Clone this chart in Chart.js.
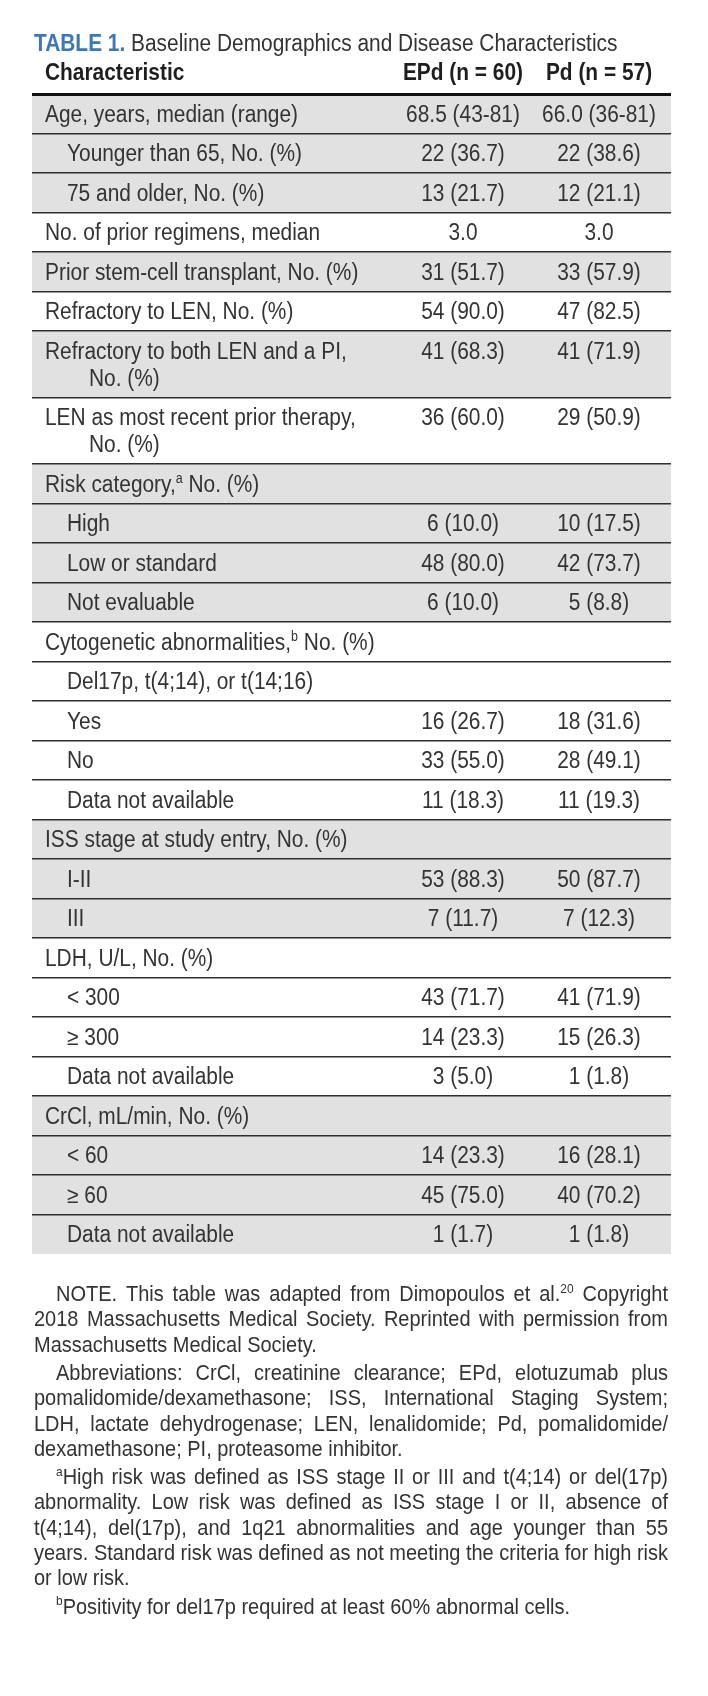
<!DOCTYPE html>
<html lang="en">
<head>
<meta charset="UTF-8">
<title>Table 1. Baseline Demographics and Disease Characteristics</title>
<script src="https://cdn.jsdelivr.net/npm/chart.js"></script>
<style>
    body { margin: 0; background: #fff; }
    #wrap { width: 708px; height: 1696px; }
</style>
</head>
<body>
<div id="wrap"><canvas id="tableChart" width="708" height="1696"></canvas></div>
<script>
// ---- table content ----
const titleLabel = 'TABLE 1.';
const titleText = 'Baseline Demographics and Disease Characteristics';
const colHeaders = ['Characteristic', 'EPd (n = 60)', 'Pd (n = 57)'];

// {x} marks a superscript
const rowLabels = [
    'Age, years, median (range)',
    'Younger than 65, No. (%)',
    '75 and older, No. (%)',
    'No. of prior regimens, median',
    'Prior stem-cell transplant, No. (%)',
    'Refractory to LEN, No. (%)',
    ['Refractory to both LEN and a PI,', 'No. (%)'],
    ['LEN as most recent prior therapy,', 'No. (%)'],
    'Risk category,{a} No. (%)',
    'High',
    'Low or standard',
    'Not evaluable',
    'Cytogenetic abnormalities,{b} No. (%)',
    'Del17p, t(4;14), or t(14;16)',
    'Yes',
    'No',
    'Data not available',
    'ISS stage at study entry, No. (%)',
    'I-II',
    'III',
    'LDH, U/L, No. (%)',
    '< 300',
    '\u2265 300',
    'Data not available',
    'CrCl, mL/min, No. (%)',
    '< 60',
    '\u2265 60',
    'Data not available'
];
// 0 = main characteristic, 1 = sub row
const rowLevels = [0, 1, 1, 0, 0, 0, 0, 0, 0, 1, 1, 1, 0, 1, 1, 1, 1, 0, 1, 1, 0, 1, 1, 1, 0, 1, 1, 1];
const epdValues = ['68.5 (43-81)', '22 (36.7)', '13 (21.7)', '3.0', '31 (51.7)', '54 (90.0)', '41 (68.3)', '36 (60.0)',
    '', '6 (10.0)', '48 (80.0)', '6 (10.0)', '', '', '16 (26.7)', '33 (55.0)', '11 (18.3)',
    '', '53 (88.3)', '7 (11.7)', '', '43 (71.7)', '14 (23.3)', '3 (5.0)', '', '14 (23.3)', '45 (75.0)', '1 (1.7)'];
const pdValues = ['66.0 (36-81)', '22 (38.6)', '12 (21.1)', '3.0', '33 (57.9)', '47 (82.5)', '41 (71.9)', '29 (50.9)',
    '', '10 (17.5)', '42 (73.7)', '5 (8.8)', '', '', '18 (31.6)', '28 (49.1)', '11 (19.3)',
    '', '50 (87.7)', '7 (12.3)', '', '41 (71.9)', '15 (26.3)', '1 (1.8)', '', '16 (28.1)', '40 (70.2)', '1 (1.8)'];

// footnote paragraphs, one entry per printed line
const noteParagraphs = [
    ['NOTE. This table was adapted from Dimopoulos et al.{20} Copyright',
     '2018 Massachusetts Medical Society. Reprinted with permission from',
     'Massachusetts Medical Society.'],
    ['Abbreviations: CrCl, creatinine clearance; EPd, elotuzumab plus',
     'pomalidomide/dexamethasone; ISS, International Staging System;',
     'LDH, lactate dehydrogenase; LEN, lenalidomide; Pd, pomalidomide/',
     'dexamethasone; PI, proteasome inhibitor.'],
    ['{a}High risk was defined as ISS stage II or III and t(4;14) or del(17p)',
     'abnormality. Low risk was defined as ISS stage I or II, absence of',
     't(4;14), del(17p), and 1q21 abnormalities and age younger than 55',
     'years. Standard risk was defined as not meeting the criteria for high risk',
     'or low risk.'],
    ['{b}Positivity for del17p required at least 60% abnormal cells.']
];

// ---- layout / style ----
const FONT = '"Liberation Sans", Arial, sans-serif';
const SX = 0.908;            // horizontal squeeze to mimic the condensed face
const ROW_H = 39.5;
const LINE_H = 27;
const GRAY = '#e1e1e1';
const TEXT = '#333333';

// row geometry in table units (1 unit = 1px)
const rowLines = rowLabels.map(l => Array.isArray(l) ? l.length : 1);
const rowHeights = rowLines.map(n => ROW_H + (n - 1) * LINE_H);
const rowTops = [];
rowHeights.reduce((acc, h) => { rowTops.push(acc); return acc + h; }, 0);
const tableHeight = rowHeights.reduce((a, b) => a + b, 0);
const boundaries = rowTops.slice();  // separator lines above each row

// alternate shading by characteristic group
let group = -1;
const rowShaded = rowLevels.map(l => { if (l === 0) group++; return group % 2 === 0; });

function rowData(lines) {
    const idx = rowLines.map((n, i) => i).filter(i => rowLines[i] === lines);
    return {
        data: idx.map(i => ({ x: [0, 1], y: rowTops[i] + rowHeights[i] / 2 })),
        colors: idx.map(i => rowShaded[i] ? GRAY : 'rgba(255,255,255,0)')
    };
}
const singleRows = rowData(1);
const doubleRows = rowData(2);

// ---- text helpers ----
function segments(str) {
    const out = [];
    const re = /\{([^}]*)\}/g;
    let last = 0, m;
    while ((m = re.exec(str))) {
        if (m.index > last) out.push({ t: str.slice(last, m.index), sup: false });
        out.push({ t: m[1], sup: true });
        last = re.lastIndex;
    }
    if (last < str.length) out.push({ t: str.slice(last), sup: false });
    return out;
}
function setFont(ctx, size, weight, sup) {
    ctx.font = weight + ' ' + (sup ? size * 0.6 : size) + 'px ' + FONT;
}
function richWidth(ctx, str, size, weight, sx) {
    let w = 0;
    for (const seg of segments(str)) {
        setFont(ctx, size, weight, seg.sup);
        w += ctx.measureText(seg.t).width * (sx || SX);
    }
    return w;
}
function drawRich(ctx, str, x, y, size, weight, color, sx) {
    sx = sx || SX;
    ctx.fillStyle = color;
    let cx = x;
    for (const seg of segments(str)) {
        setFont(ctx, size, weight, seg.sup);
        ctx.save();
        ctx.translate(cx, seg.sup ? y - size * 0.38 : y);
        ctx.scale(sx, 1);
        ctx.fillText(seg.t, 0, 0);
        ctx.restore();
        cx += ctx.measureText(seg.t).width * sx;
    }
    return cx - x;
}
function drawLine(ctx, str, x0, x1, y, size, color, justify) {
    const words = str.split(' ');
    setFont(ctx, size, 'normal', false);
    const space = ctx.measureText(' ').width * SX;
    let sx = SX;
    let widths = words.map(w => richWidth(ctx, w, size, 'normal'));
    let sum = widths.reduce((a, b) => a + b, 0);
    let gap = space;
    if (justify && words.length > 1) {
        gap = (x1 - x0 - sum) / (words.length - 1);
        if (gap < space * 0.5) {
            const k = (x1 - x0) / (sum + space * 0.5 * (words.length - 1));
            sx = SX * k;
            widths = widths.map(w => w * k);
            gap = space * 0.5 * k;
        }
    }
    let x = x0;
    words.forEach((w, i) => {
        drawRich(ctx, w, x, y, size, 'normal', color, sx);
        x += widths[i] + gap;
    });
}

const tableText = {
    id: 'tableText',
    afterDraw(chart) {
        const ctx = chart.ctx;
        const y = chart.scales.y;
        const area = chart.chartArea;
        ctx.save();
        ctx.textBaseline = 'alphabetic';
        ctx.textAlign = 'left';

        // title
        const tw = drawRich(ctx, titleLabel, 34, 51, 23, 'bold', '#3b79b6');
        drawRich(ctx, ' ' + titleText, 34 + tw, 51, 23, 'normal', TEXT);

        // column headers
        const colX = [45, 463, 599];
        const hy = y.getPixelForValue(0) - 14;
        drawRich(ctx, colHeaders[0], colX[0], hy, 23, 'bold', '#1e1e1e');
        for (let c = 1; c < 3; c++) {
            const w = richWidth(ctx, colHeaders[c], 23, 'bold');
            drawRich(ctx, colHeaders[c], colX[c] - w / 2, hy, 23, 'bold', '#1e1e1e');
        }

        // rows
        rowLabels.forEach((label, i) => {
            const base = y.getPixelForValue(rowTops[i]) + 27.5;
            const lines = Array.isArray(label) ? label : [label];
            const indent = rowLevels[i] === 0 ? 45 : 67;
            lines.forEach((ln, j) => {
                drawRich(ctx, ln, j === 0 ? indent : indent + 44, base + j * LINE_H, 23, 'normal', TEXT);
            });
            [epdValues[i], pdValues[i]].forEach((v, c) => {
                if (!v) return;
                const w = richWidth(ctx, v, 23, 'normal');
                drawRich(ctx, v, colX[c + 1] - w / 2, base, 23, 'normal', TEXT);
            });
        });

        // footnotes
        let ny = area.bottom + 47;
        noteParagraphs.forEach((para, p) => {
            para.forEach((ln, j) => {
                const last = j === para.length - 1;
                drawLine(ctx, ln, j === 0 ? 56 : 34, 668, ny, 22, TEXT, !last);
                ny += 25.3;
            });
            ny += 3;
        });
        ctx.restore();
    }
};

new Chart(document.getElementById('tableChart'), {
    type: 'bar',
    data: {
        datasets: [
            { label: 'single', data: singleRows.data, backgroundColor: singleRows.colors, barThickness: ROW_H },
            { label: 'double', data: doubleRows.data, backgroundColor: doubleRows.colors, barThickness: ROW_H + LINE_H }
        ]
    },
    options: {
        indexAxis: 'y',
        responsive: false,
        devicePixelRatio: 1,
        animation: false,
        layout: { padding: { top: 94, left: 32, right: 37, bottom: 1696 - 94 - tableHeight } },
        datasets: { bar: { grouped: false, borderWidth: 0, borderSkipped: false } },
        plugins: { legend: { display: false }, tooltip: { enabled: false }, title: { display: false } },
        scales: {
            x: { type: 'linear', min: 0, max: 1, display: false },
            y: {
                type: 'linear',
                reverse: true,
                offset: false,
                min: 0,
                max: tableHeight,
                afterBuildTicks: axis => { axis.ticks = boundaries.map(v => ({ value: v })); },
                ticks: { display: false },
                border: { display: false },
                grid: {
                    z: 1,
                    offset: false,
                    drawTicks: false,
                    color: ctx => ctx.tick && ctx.tick.value === 0 ? '#111' : '#2e2e2e',
                    lineWidth: ctx => ctx.tick && ctx.tick.value === 0 ? 3 : 1.5
                }
            }
        }
    },
    plugins: [tableText]
});
</script>
</body>
</html>
